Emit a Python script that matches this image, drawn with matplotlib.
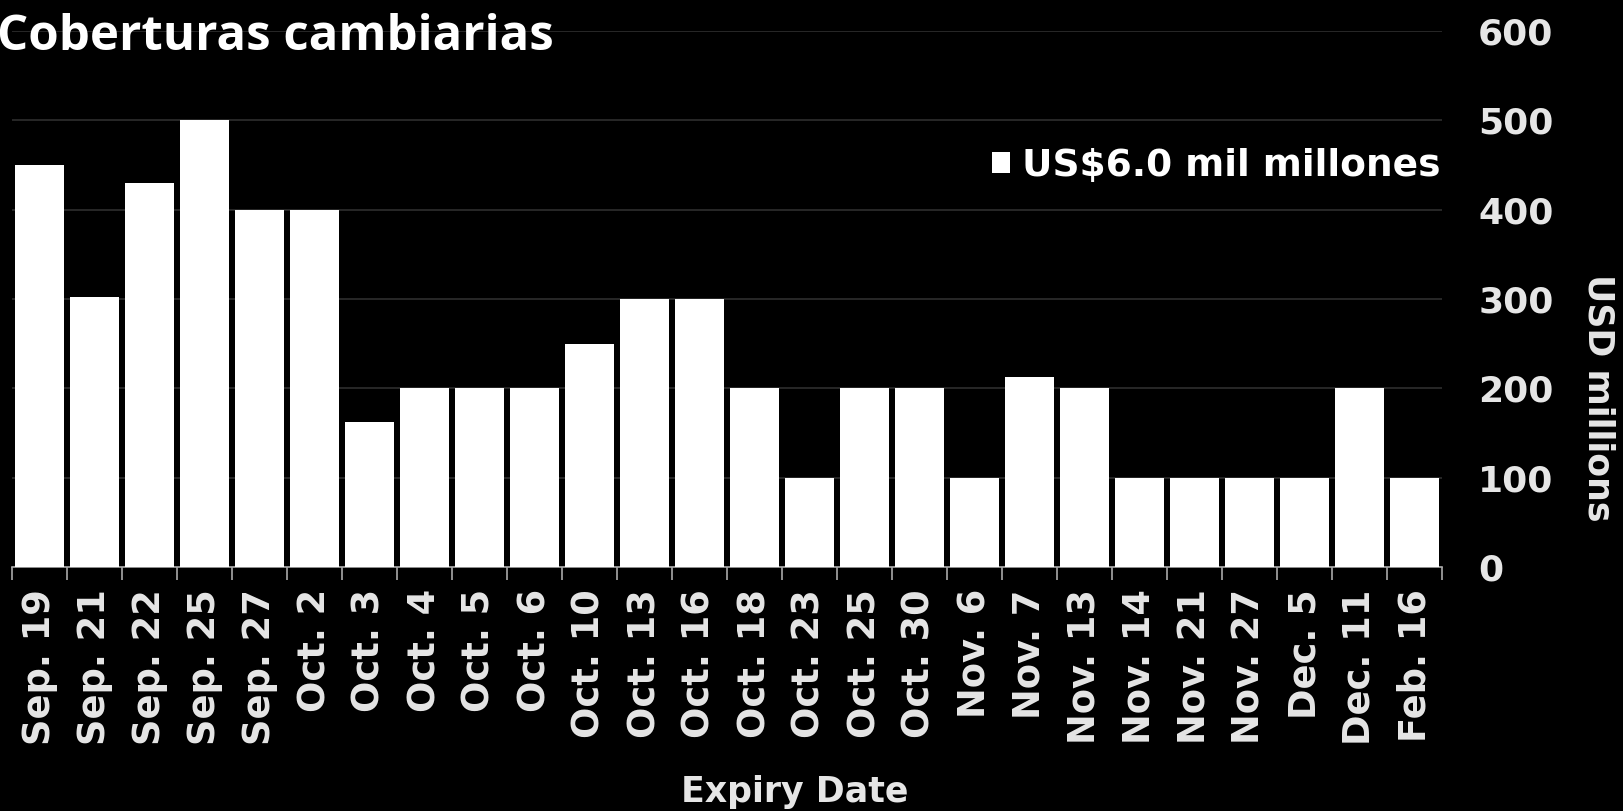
import matplotlib
matplotlib.use("Agg")
import matplotlib.pyplot as plt
import numpy as np

categories = ["Sep. 19", "Sep. 21", "Sep. 22", "Sep. 25", "Sep. 27", "Oct. 2", "Oct. 3",
              "Oct. 4", "Oct. 5", "Oct. 6", "Oct. 10", "Oct. 13", "Oct. 16", "Oct. 18",
              "Oct. 23", "Oct. 25", "Oct. 30", "Nov. 6", "Nov. 7", "Nov. 13", "Nov. 14",
              "Nov. 21", "Nov. 27", "Dec. 5", "Dec. 11", "Feb. 16"]
values = [450, 302, 430, 500, 400, 400, 162, 200, 200, 200, 250, 300, 300, 200,
          100, 200, 200, 100, 213, 200, 100, 100, 100, 100, 200, 100]
yticks = [0, 100, 200, 300, 400, 500, 600]
title = "Coberturas cambiarias"
legend_label = "US$6.0 mil millones"

W, H = 1623, 811
fig = plt.figure(figsize=(W / 100, H / 100), dpi=100, facecolor="black")
ax = fig.add_axes([12 / W, 1 - 567 / H, (1442 - 12) / W, (567 - 31) / H])
ax.set_facecolor("black")

x = np.arange(len(categories))
ax.bar(x, values, width=0.9, color="white", zorder=3, label=legend_label)
ax.set_xlim(-0.5, len(categories) - 0.5)
ax.set_ylim(0, 600)

ax.yaxis.tick_right()
ax.set_yticks(yticks)
ax.set_yticklabels([str(v) for v in yticks], fontsize=26, fontweight="bold", color="#e6e6e6")
ax.tick_params(axis="y", length=0, pad=26)
ax.grid(axis="y", color="#2e2e2e", linewidth=1.2, zorder=0)

ax.set_xticks(x)
ax.set_xticklabels(categories, rotation=90, fontsize=26.5, fontweight="bold", color="#e6e6e6")
ax.set_xticks(np.arange(-0.5, len(categories)), minor=True)
ax.tick_params(axis="x", which="major", length=0, pad=16)
ax.tick_params(axis="x", which="minor", length=9, width=1.2, color="#aaaaaa")

for s in ["top", "left", "right"]:
    ax.spines[s].set_visible(False)
ax.spines["bottom"].set_color("#aaaaaa")
ax.spines["bottom"].set_linewidth(1.2)

leg = ax.legend(loc="center right", bbox_to_anchor=(1440 / W, 1 - 166 / H),
                bbox_transform=fig.transFigure, frameon=False,
                prop={"size": 27, "weight": "bold"}, handlelength=0.5, handleheight=0.5,
                handletextpad=0.3, borderaxespad=0, borderpad=0)
for t in leg.get_texts():
    t.set_color("white")

fig.text(-3 / W, 1 - 50 / H, title, fontsize=35.4, fontweight="bold", color="white",
         family=["Open Sans", "DejaVu Sans"], ha="left", va="baseline")
fig.text(1598 / W, 1 - 398 / H, "USD millions", rotation=270, fontsize=25, fontweight="bold",
         color="#e6e6e6", ha="center", va="center")
fig.text(795 / W, 1 - 792 / H, "Expiry Date", fontsize=25, fontweight="bold",
         color="#e6e6e6", ha="center", va="center")

fig.savefig("out.png", dpi=100, facecolor="black")
